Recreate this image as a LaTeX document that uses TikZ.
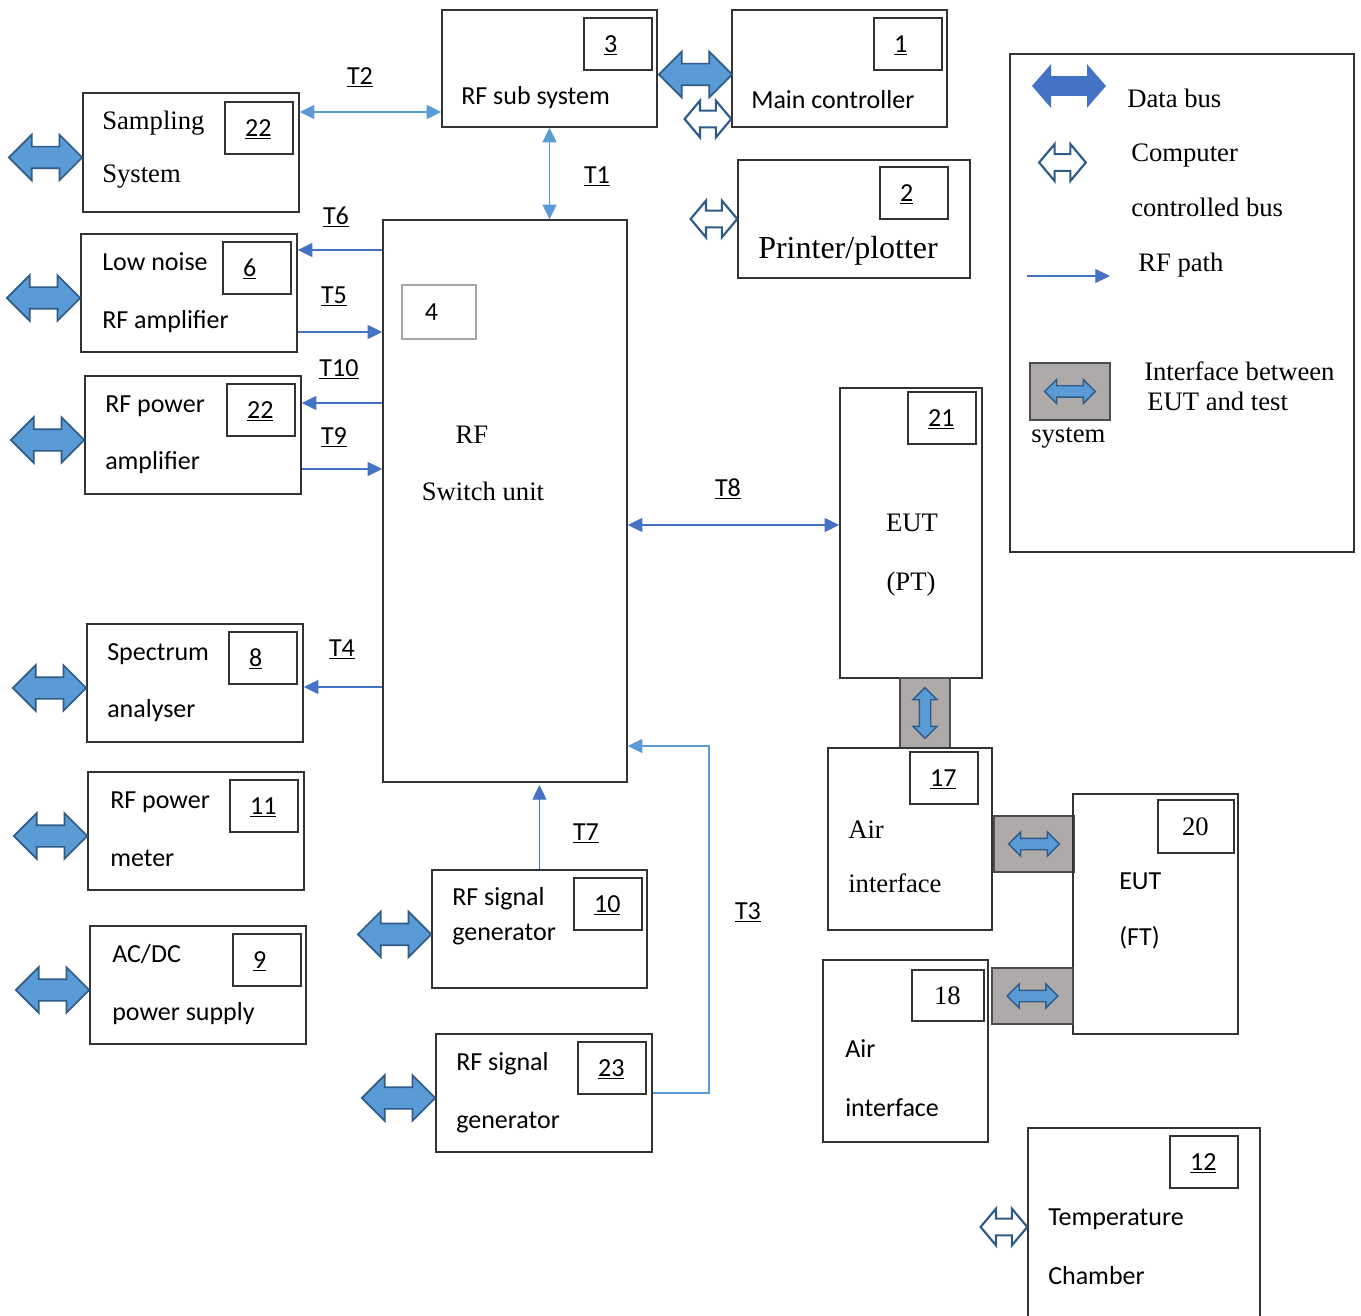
\documentclass[tikz,border=0pt]{standalone}
\usepackage{fontspec}
\setmainfont{Liberation Serif}
\setsansfont{Carlito}
\usepackage{tikz}
\usetikzlibrary{positioning,arrows.meta,shapes.arrows,fit}

\definecolor{busfill}{HTML}{5B9BD5}
\definecolor{busedge}{HTML}{2E5B87}
\definecolor{rfblue}{HTML}{4472C4}
\definecolor{palebl}{HTML}{5B9BD5}
\definecolor{ifgray}{HTML}{AEAAAA}
\definecolor{boxline}{HTML}{333333}

\newcommand{\bxsans}{\sffamily\fontsize{19.5}{23}\selectfont}
\newcommand{\bxserif}{\rmfamily\fontsize{20}{24}\selectfont}

\begin{document}
\begin{tikzpicture}[
    x=0.75pt, y=-0.75pt,
    box/.style={draw=boxline, line width=1.1pt, inner sep=0pt},
    numbox/.style={draw=boxline, line width=1pt, minimum width=51pt, minimum height=39pt,
        text width=21pt, inner xsep=15pt, inner ysep=0pt, align=left,
        font=\bxsans, text height=12.6pt, text depth=0pt},
    sans/.style={anchor=west, inner sep=0pt, font=\bxsans, text height=12.6pt, text depth=0pt},
    serif/.style={anchor=west, inner sep=0pt, font=\bxserif, text height=13.2pt, text depth=0pt},
    tlabel/.style={inner sep=0pt, font=\bxsans, text height=12.6pt, text depth=0pt},
    databus/.style={double arrow, draw=busedge, line width=1.3pt, fill=busfill, outer sep=0pt,
        inner xsep=0pt, inner ysep=7.5pt, double arrow head extend=9pt,
        double arrow tip angle=90, minimum height=55pt},
    cbus/.style={double arrow, draw=busedge, line width=1.6pt, fill=white, outer sep=0pt,
        inner xsep=0pt, inner ysep=5.5pt, double arrow head extend=7.5pt,
        double arrow tip angle=100, minimum height=35pt},
    ifbus/.style={double arrow, draw=busedge, line width=1pt, fill=busfill, outer sep=0pt,
        inner xsep=0pt, inner ysep=3.75pt, double arrow head extend=4.75pt,
        double arrow tip angle=90, minimum height=38pt},
    ifbox/.style={draw=black!70, line width=1pt, fill=ifgray, inner sep=0pt},
    rf/.style={draw=rfblue, line width=1pt, -{Triangle[length=11pt,width=10.5pt]}},
    rfboth/.style={draw=rfblue, line width=1pt, {Triangle[length=11pt,width=10.5pt]}-{Triangle[length=11pt,width=10.5pt]}},
    rflight/.style={draw=palebl, line width=1pt, {Triangle[length=11pt,width=10.5pt]}-{Triangle[length=11pt,width=10.5pt]}}
]
\path[use as bounding box, fill=white] (0,0) rectangle (1361,1316);

% Top row
\node[box, fit={(442,10) (657,127)}] (sub) {};
\node[numbox, below left=6pt and 3.75pt of sub.north east] (sub-n) {\underline{3}};
\node[sans] (sub-t) at (461,96) {RF sub system};

\node[box, fit={(732,10) (947,127)}] (mc) {};
\node[numbox, below left=6pt and 3.75pt of mc.north east] (mc-n) {\underline{1}};
\node[sans] (mc-t) at (751,100) {Main controller};

\node[box, fit={(738,160) (970,278)}] (prn) {};
\node[numbox, below left=5.25pt and 16.5pt of prn.north east] (prn-n) {\underline{2}};
\node[serif, font=\rmfamily\fontsize{24}{28}\selectfont, text height=15.9pt] (prn-t) at (758,248) {Printer/plotter};

% Left column
\node[box, fit={(83,93) (299,212)}] (ss) {};
\node[numbox, below left=6.75pt and 4.5pt of ss.north east] (ss-n) {\underline{22}};
\node[serif] (ss-t1) at (102,121) {Sampling};
\node[serif] (ss-t2) at (102,174) {System};

\node[box, fit={(81,234) (297,352)}] (lna) {};
\node[numbox, below left=6pt and 4.5pt of lna.north east] (lna-n) {\underline{6}};
\node[sans] (lna-t1) at (102,262) {Low noise};
\node[sans] (lna-t2) at (102,320) {RF amplifier};

\node[box, fit={(85,376) (301,494)}] (rpa) {};
\node[numbox, below left=6pt and 4.5pt of rpa.north east] (rpa-n) {\underline{22}};
\node[sans] (rpa-t1) at (105,404) {RF power};
\node[sans] (rpa-t2) at (105,461) {amplifier};

\node[box, fit={(87,624) (303,742)}] (sp) {};
\node[numbox, below left=6pt and 4.5pt of sp.north east] (sp-n) {\underline{8}};
\node[sans] (sp-t1) at (107,652) {Spectrum};
\node[sans] (sp-t2) at (107,709) {analyser};

\node[box, fit={(88,772) (304,890)}] (pm) {};
\node[numbox, below left=6pt and 4.5pt of pm.north east] (pm-n) {\underline{11}};
\node[sans] (pm-t1) at (110,800) {RF power};
\node[sans] (pm-t2) at (110,858) {meter};

\node[box, fit={(90,926) (306,1044)}] (ps) {};
\node[numbox, below left=6pt and 3.75pt of ps.north east] (ps-n) {\underline{9}};
\node[sans] (ps-t1) at (112,954) {AC/DC};
\node[sans] (ps-t2) at (112,1012) {power supply};

% RF switch unit
\node[box, fit={(383,220) (627,782)}] (sw) {};
\node[numbox, draw=black!35, minimum width=55.5pt, minimum height=40.5pt,
    below right=48.75pt and 14.25pt of sw.north west] (sw-n) {4};
\node[serif, anchor=center] (sw-t1) at (472,435) {RF};
\node[serif, anchor=center] (sw-t2) at (483,492) {Switch unit};

% Signal generators
\node[box, fit={(432,870) (647,988)}] (sg10) {};
\node[numbox, below left=6pt and 3.75pt of sg10.north east] (sg10-n) {\underline{10}};
\node[sans] (sg10-t1) at (452,897) {RF signal};
\node[sans] (sg10-t2) at (452,932) {generator};

\node[box, fit={(436,1034) (652,1152)}] (sg23) {};
\node[numbox, below left=6pt and 4.5pt of sg23.north east] (sg23-n) {\underline{23}};
\node[sans] (sg23-t1) at (456,1062) {RF signal};
\node[sans] (sg23-t2) at (456,1120) {generator};

% EUT side
\node[box, fit={(840,388) (982,678)}] (eutpt) {};
\node[numbox, below left=3pt and 4.5pt of eutpt.north east] (eutpt-n) {\underline{21}};
\node[serif, anchor=center] (eutpt-t1) at (912,523) {EUT};
\node[serif, anchor=center] (eutpt-t2) at (911,582) {(PT)};

\node[ifbox, fit={(900,678) (950,748)}] (ifv) {};
\node[ifbus, rotate=90] (ifv-bus) at (ifv.center) {};

\node[box, fit={(828,748) (992,930)}] (air17) {};
\node[numbox, below left=3pt and 10.5pt of air17.north east] (air17-n) {\underline{17}};
\node[serif] (air17-t1) at (848,830) {Air};
\node[serif] (air17-t2) at (848,884) {interface};

\node[ifbox, fit={(994,816) (1074,872)}] (ifh1) {};
\node[ifbus] (ifh1-bus) at (ifh1.center) {};

\node[box, fit={(1073,794) (1238,1034)}] (eutft) {};
\node[numbox, font=\bxserif, text height=13.2pt, minimum width=57pt, minimum height=39.75pt,
    below left=4.5pt and 3pt of eutft.north east] (eutft-n) {20};
\node[sans] (eutft-t1) at (1119,881) {EUT};
\node[sans] (eutft-t2) at (1119,937) {(FT)};

\node[ifbox, fit={(992,968) (1073,1024)}] (ifh2) {};
\node[ifbus] (ifh2-bus) at (ifh2.center) {};

\node[box, fit={(823,960) (988,1142)}] (air18) {};
\node[numbox, font=\bxserif, text height=13.2pt, minimum width=54pt, minimum height=38.25pt,
    below left=7.5pt and 3pt of air18.north east] (air18-n) {18};
\node[sans] (air18-t1) at (845,1049) {Air};
\node[sans] (air18-t2) at (845,1108) {interface};

\node[box, fit={(1028,1128) (1260,1330)}] (tc) {};
\node[numbox, below left=6pt and 16.5pt of tc.north east] (tc-n) {\underline{12}};
\node[sans] (tc-t1) at (1048,1217) {Temperature};
\node[sans] (tc-t2) at (1048,1276) {Chamber};

% Buses
\node[databus, left=0pt of ss, yshift=-3.75pt] (ss-bus) {};
\node[databus, left=0pt of lna, yshift=-3.75pt] (lna-bus) {};
\node[databus, left=0pt of rpa, yshift=-3.75pt] (rpa-bus) {};
\node[databus, left=0pt of sp, yshift=-3.75pt] (sp-bus) {};
\node[databus, left=0pt of pm, yshift=-3.75pt] (pm-bus) {};
\node[databus, left=0pt of ps, yshift=-3.75pt] (ps-bus) {};
\node[databus, left=0pt of sg10, yshift=-4pt] (sg10-bus) {};
\node[databus, left=0pt of sg23, yshift=-3.75pt] (sg23-bus) {};
\node[databus] (sub-bus) at (695.5,74.5) {};

\node[cbus, anchor=east] (mc-cbus) at (mc.west |- 0,119) {};
\node[cbus, left=0pt of prn] (prn-cbus) {};
\node[cbus, anchor=east] (tc-cbus) at (tc.west |- 0,1227) {};

% RF paths
\draw[rflight] (ss.east |- 0,112) -- (sub.west |- 0,112);
\draw[rflight] (sub.south) -- (sub.south |- sw.north);
\draw[rf] (sw.west |- 0,250) -- (lna.east |- 0,250);
\draw[rf] (lna.east |- 0,332) -- (sw.west |- 0,332);
\draw[rf] (sw.west |- 0,403) -- (rpa.east |- 0,403);
\draw[rf] (rpa.east |- 0,469) -- (sw.west |- 0,469);
\draw[rf] (sw.west |- 0,687) -- (sp.east |- 0,687);
\draw[rfboth] (sw.east |- 0,525) -- (eutpt.west |- 0,525);
\draw[rf] (sg10.north) -- (sg10.north |- 0,785);
\coordinate (t3bend) at (709,746);
\draw[draw=palebl, line width=0.8pt, -{Triangle[length=11pt,width=10.5pt]}]
    (sg23.east) -| (t3bend) -- (t3bend -| sw.east);

% Path labels
\node[tlabel] (t2) at (360,76) {\underline{T2}};
\node[tlabel] (t1) at (597,175) {\underline{T1}};
\node[tlabel] (t6) at (336,216) {\underline{T6}};
\node[tlabel] (t5) at (334,295) {\underline{T5}};
\node[tlabel] (t10) at (339,368) {\underline{T10}};
\node[tlabel] (t9) at (334,436) {\underline{T9}};
\node[tlabel] (t4) at (342,648) {\underline{T4}};
\node[tlabel] (t8) at (728,488) {\underline{T8}};
\node[tlabel] (t7) at (586,832) {\underline{T7}};
\node[tlabel] (t3) at (748,911) {\underline{T3}};

% Legend
\node[box, fit={(1010,54) (1354,552)}] (lg) {};
\node[databus, draw=none, fill=rfblue, inner ysep=6.75pt, double arrow tip angle=98,
    minimum height=55.5pt] (lg-bus) at (1069,86) {};
\node[serif] (lg-t1) at (1127,99) {Data bus};
\node[cbus] (lg-cbus) at (1062.5,162.5) {};
\node[serif] (lg-t2) at (1131,153) {Computer};
\node[serif] (lg-t3) at (1131,208) {controlled bus};
\coordinate (lg-rfa) at (1027,276);
\coordinate (lg-rfb) at (1110,276);
\draw[rf, line width=0.8pt] (lg-rfa) -- (lg-rfb);
\node[serif] (lg-t4) at (1138,263) {RF path};
\node[ifbox, fit={(1030,363) (1110,420)}] (lg-if) {};
\node[ifbus] (lg-ifbus) at (lg-if.center) {};
\node[serif] (lg-t5) at (1144,372) {Interface between};
\node[serif] (lg-t6) at (1147,402) {EUT and test};
\node[serif] (lg-t7) at (1031,434) {system};

\end{tikzpicture}
\end{document}
